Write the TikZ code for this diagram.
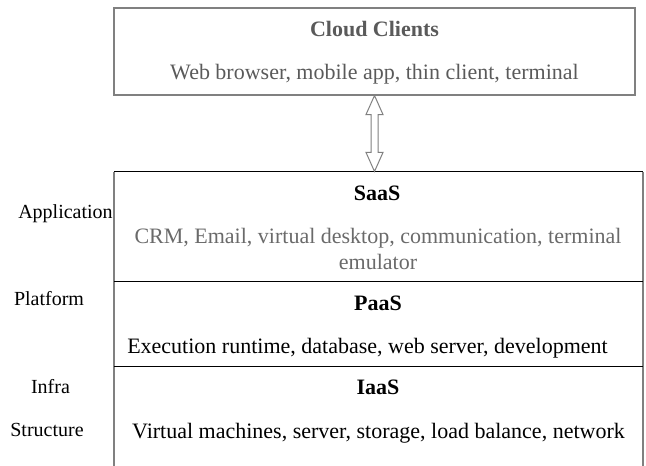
\documentclass[tikz,border=0pt]{standalone}
\usepackage{fontspec}
\setmainfont{Liberation Serif}
\usepackage{tikz}
\usetikzlibrary{positioning,calc,shapes.arrows}
\definecolor{edgegrey}{HTML}{808080}
\definecolor{textgrey}{HTML}{5A5A5A}
\definecolor{bodygrey}{HTML}{6A6A6A}

\begin{document}
\begin{tikzpicture}[
    x=0.75pt, y=-0.75pt,
    every node/.style = {inner sep=0pt, outer sep=0pt},
    head/.style       = {anchor=base, font=\fontsize{16.5}{20}\selectfont\bfseries},
    body/.style       = {anchor=base, font=\fontsize{16.5}{20}\selectfont},
    side/.style       = {anchor=base, font=\fontsize{15}{18}\selectfont},
    layer/.style      = {rectangle, minimum width=396.75pt, anchor=north west},
    rule/.style       = {draw=black, line width=0.75pt},
    frame/.style      = {draw=edgegrey, line width=1.5pt},
]
\useasboundingbox (0,0) rectangle (646,466);

\node [rectangle, frame, minimum width=390.75pt, minimum height=65.25pt,
       anchor=north west] (clients) at (114,8) {};
\node [head, text=textgrey] (cc) at (374.5,37) {Cloud Clients};
\node [body, text=textgrey] (ccb) at (374.5,80) {Web browser, mobile app, thin client, terminal};

\node [layer, minimum height=82.5pt] (saas) at (114,172) {};
\node [layer, minimum height=63.75pt, below=0pt of saas] (paas) {};
\node [layer, minimum height=74.25pt, below=0pt of paas] (iaas) {};

\draw [frame] (saas.north west) -- (iaas.south west);
\draw [frame] (saas.north east) -- (iaas.south east);
\draw [rule] (saas.north west) -- (saas.north east);
\draw [rule] (saas.south west) -- (saas.south east);
\draw [rule] (paas.south west) -- (paas.south east);

\node [double arrow, draw=edgegrey, fill=white, line width=0.75pt, rotate=90,
       minimum height=57pt, inner sep=2.25pt, double arrow head extend=3.75pt,
       double arrow tip angle=48] (link)
       at ($(clients.south)!0.5!(clients.south |- saas.north)$) {};

\node [head] (sh) at (377,201) {SaaS};
\node [body, text=bodygrey] (sb) at (378,244) {CRM, Email, virtual desktop, communication, terminal};
\node [body, text=bodygrey] (sb2) at (378,270) {emulator};
\node [head] (ph) at (378,311) {PaaS};
\node [body] (pb) at (367.5,354) {Execution runtime, database, web server, development};
\node [head] (ih) at (378,395) {IaaS};
\node [body] (ib) at (378.5,438) {Virtual machines, server, storage, load balance, network};

\node [side] (app) at (65.5,219) {Application};
\node [side] (plat) at (49,306) {Platform};
\node [side] (infra) at (50.5,393) {Infra};
\node [side] (struct) at (47,436) {Structure};
\end{tikzpicture}
\end{document}
